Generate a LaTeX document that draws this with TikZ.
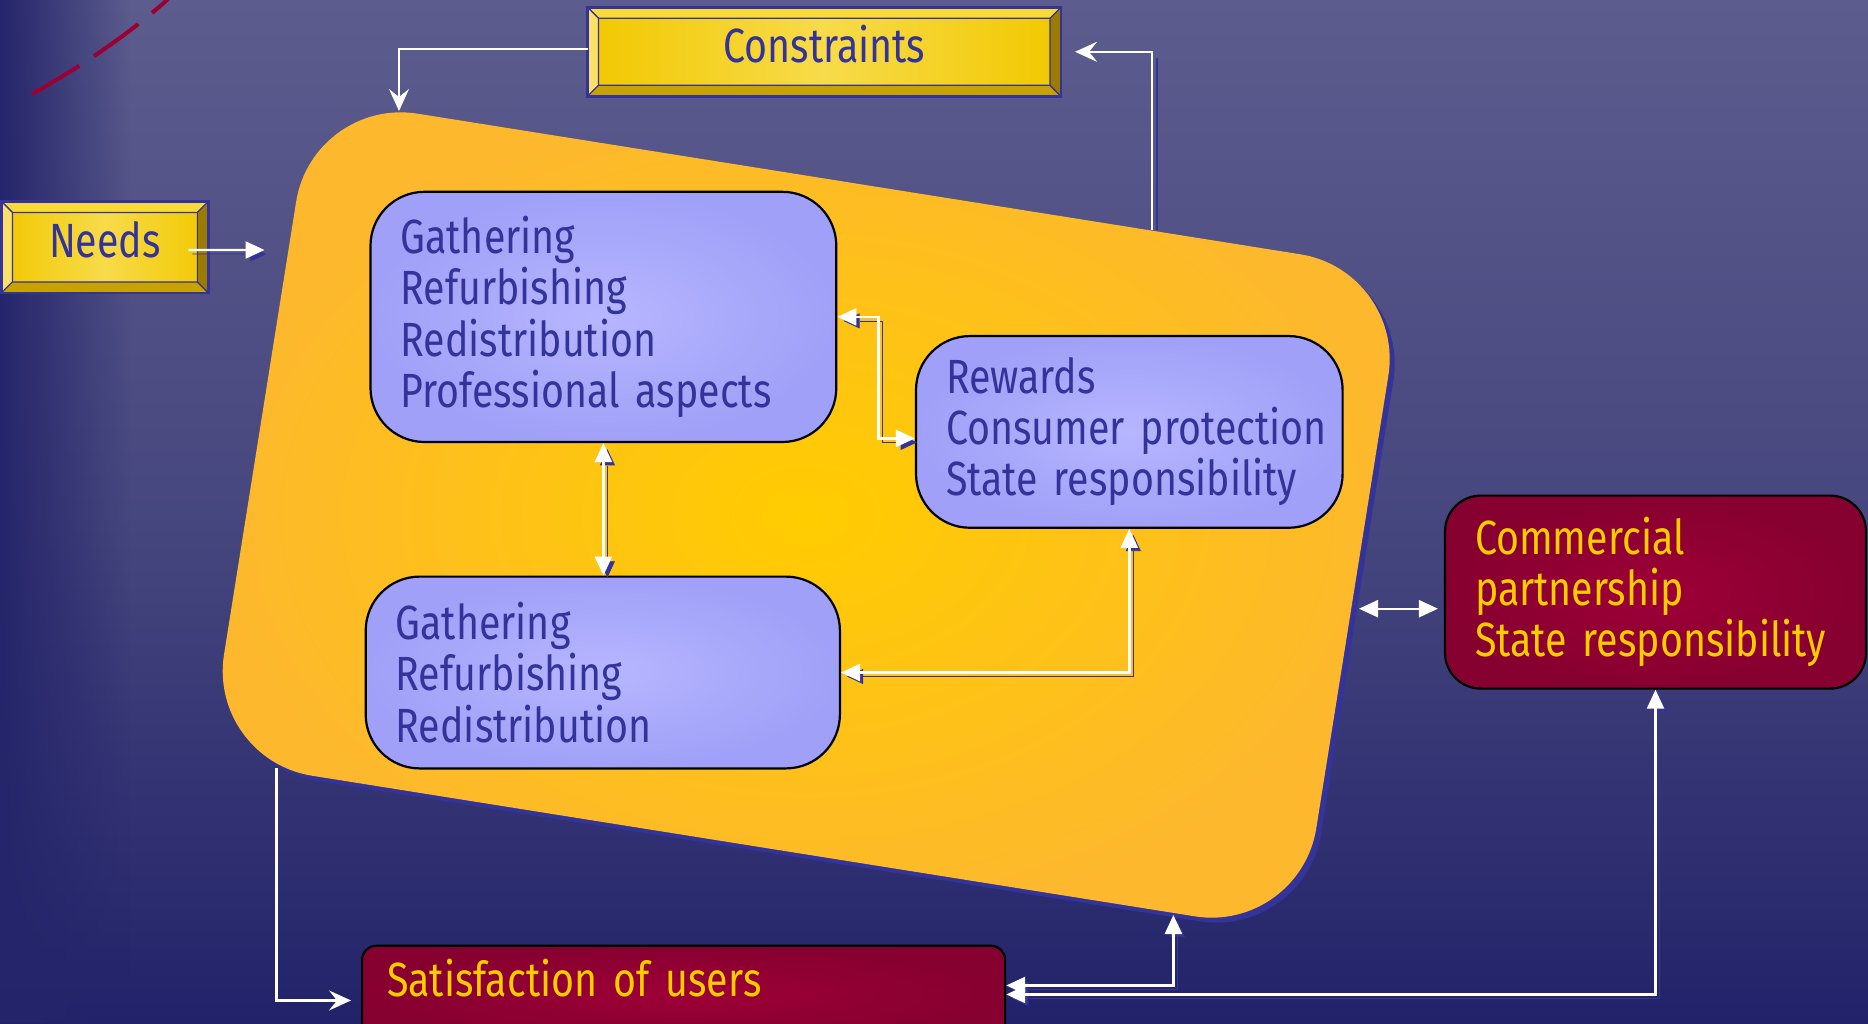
\documentclass[tikz,border=0pt]{standalone}
\usepackage{fontspec}
\setmainfont[FakeStretch=0.82,WordSpace=0.6]{Fira Sans}
\usetikzlibrary{arrows.meta,calc,shadows,fadings}

\definecolor{navy}{HTML}{333399}
\definecolor{bgtop}{HTML}{5C5C8E}
\definecolor{bgmid}{HTML}{47477F}
\definecolor{bgbot}{HTML}{22226A}
\definecolor{bgdark}{HTML}{25256B}
\definecolor{blobin}{HTML}{FFCC00}
\definecolor{blobout}{HTML}{FDB82E}
\definecolor{lavin}{HTML}{B6B6FF}
\definecolor{lavout}{HTML}{A0A0F8}
\definecolor{redin}{HTML}{9E0036}
\definecolor{redout}{HTML}{860030}
\definecolor{txtyel}{HTML}{FFCC00}
\definecolor{crimson}{HTML}{990033}
\definecolor{facedark}{HTML}{F2C800}
\definecolor{facelight}{HTML}{F7DB4A}
\definecolor{bevtop}{HTML}{F8DA38}
\definecolor{bevleft}{HTML}{FBE06A}
\definecolor{bevbot}{HTML}{C8A200}
\definecolor{bevright}{HTML}{9C7C00}

\newcommand\bfnt{\fontsize{24pt}{25.6pt}\selectfont}
\newcommand\bevelize[1]{%
  \fill[bevtop,draw=navy,line width=0.6pt] (#1.north west) -- (#1.north east) -- ++(-11,11) -- ($(#1.north west)+(11,11)$) -- cycle;
  \fill[bevleft,draw=navy,line width=0.6pt] (#1.north west) -- ++(11,11) -- ($(#1.south west)+(11,-11)$) -- (#1.south west) -- cycle;
  \fill[bevbot,draw=navy,line width=0.6pt] (#1.south west) -- ++(11,-11) -- ($(#1.south east)+(-11,-11)$) -- (#1.south east) -- cycle;
  \fill[bevright,draw=navy,line width=0.6pt] (#1.north east) -- (#1.south east) -- ++(-11,-11) -- ($(#1.north east)+(-11,11)$) -- cycle;
  \draw[navy,line width=1.2pt] (#1.north west) rectangle (#1.south east);
}

\tikzset{
  innerbox/.style={draw=black, line width=1.1pt, rounded corners=27pt, shading=radial,
    inner color=lavin, outer color=lavout, text=navy, font=\bfnt, align=left,
    inner xsep=15pt, inner ysep=0pt},
  redbox/.style={draw=black, line width=1.1pt, rounded corners=18pt, shading=radial,
    inner color=redin, outer color=redout, text=txtyel, font=\bfnt, align=left,
    inner xsep=15pt, inner ysep=0pt},
  bevelbox/.style={draw=navy, line width=1pt, left color=facedark, right color=facedark,
    middle color=facelight, text=navy, font=\bfnt, inner sep=0pt, text height=17pt, text depth=6.5pt},
  wline/.style={draw=white, line width=1.2pt},
  shad/.style={preaction={draw=navy, color=navy, transform canvas={shift={(2pt,-2pt)}}}},
  tri/.tip={Triangle[length=9.5pt,width=8.5pt]},
  stl/.tip={Stealth[length=11pt,width=10pt,inset=4pt]},
}

\begin{document}
\begin{tikzpicture}[x=0.5pt,y=-0.5pt]
\useasboundingbox (0,0) rectangle (1868,1023);
\clip (0,0) rectangle (1868,1023);

% background
\fill[top color=bgtop, bottom color=bgbot, middle color=bgmid] (0,0) rectangle (1868,1023);
\fill[bgdark, path fading=east] (0,0) rectangle (130,1023);

% dashed arc
\draw[crimson, line width=2pt, dash pattern=on 27.5pt off 8.75pt]
  (32,94) .. controls (75,70) and (130,35) .. (178,-10);

% blob
\node[rotate=-9.05, minimum width=553pt, minimum height=335.2pt, inner sep=0pt,
  rounded corners=53pt, shading=radial, inner color=blobin, outer color=blobout,
  drop shadow={shadow xshift=2.5pt, shadow yshift=-2.5pt, fill=navy, opacity=1}]
  (blob) at (806.2,515) {};

% inner boxes
\node[innerbox, text width=202.9pt, minimum height=125.1pt] (box1) at (603.4,316.9)
  {\mbox{Gathering}\\\mbox{Refurbishing}\\\mbox{Redistribution}\\\mbox{Professional aspects}};
\node[innerbox, text width=183.3pt, minimum height=95.85pt] (box2) at (1129.3,431.9)
  {\mbox{Rewards}\\\mbox{Consumer protection}\\\mbox{State responsibility}};
\node[innerbox, text width=207.1pt, minimum height=95.9pt] (box3) at (602.8,672.5)
  {\mbox{Gathering}\\\mbox{Refurbishing}\\\mbox{Redistribution}};

% red boxes
\node[redbox, text width=180.5pt, minimum height=96.5pt] (comm) at (1655.5,592.1)
  {\mbox{Commercial}\\\mbox{partnership}\\\mbox{State responsibility}};
\node[redbox, rounded corners=7pt, anchor=north west, inner xsep=12.5pt, text width=296.5pt,
  minimum height=47.65pt, text height=17.5pt, text depth=14pt] (sat) at (361,944.7)
  {\mbox{Satisfaction of users}};

% bevel boxes
\node[bevelbox, minimum width=235.75pt, minimum height=43.5pt] (constraints) at (824.3,51.8) {Constraints};
\bevelize{constraints}
\node[bevelbox, minimum width=102.45pt, minimum height=44.7pt] (needs) at (104.9,247.2) {Needs};
\bevelize{needs}

% coordinates on blob
\coordinate (cTL) at (399,111);
\coordinate (cTR) at (1152,230);
\coordinate (nIn) at (264.5,250);
\coordinate (bR) at (1359,608.7);
\coordinate (bBL) at (276.4,768.4);
\coordinate (bB) at (1173.4,915);

% connectors
\draw[wline, -{stl}] ([yshift=1.5pt]constraints.west) -| (cTL);
\coordinate (cTRk) at (cTR |- constraints.east);
\draw[navy, line width=1.2pt] ($(cTR)+(5,0)$) -- ($(cTRk)+(5,6)$);
\draw[wline, -{stl}, shorten >=7pt] (cTR) |- (constraints.east);

\draw[wline, shad, -{tri}, shorten <=-10pt] ([yshift=-1.4pt]needs.east) -- (nIn);

\draw[wline, shad, {tri}-{tri}] (box1.east) -- ++(41,0) |- ([yshift=-3.25pt]box2.west);
\draw[wline, shad, {tri}-{tri}] (box1.south) -- (box1.south |- box3.north);
\draw[wline, shad, {tri}-{tri}] (box3.east) -| (box2.south);

\draw[wline, {tri}-{tri}, shorten >=3pt] (bR) -- (bR -| comm.west);

\draw[wline, -{stl}, shorten >=5pt] (bBL) |- ([yshift=-3.5pt]sat.west);
\draw[wline, shad, {tri}-{tri}] ([yshift=4pt]sat.east) -| (bB);
\draw[wline, shad, {tri}-{tri}] ([yshift=-0.5pt]sat.east) -| (comm.south);
\end{tikzpicture}
\end{document}
